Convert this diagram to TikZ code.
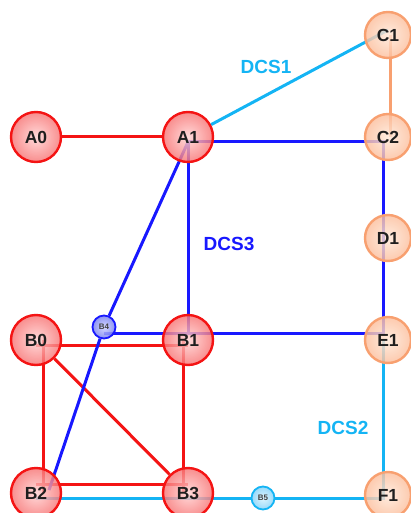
\documentclass[tikz,border=0pt]{standalone}
\usepackage{fontspec}
\setmainfont{Liberation Sans}
\usetikzlibrary{calc,backgrounds}
\definecolor{redL}{HTML}{F41414}
\definecolor{redIn}{HTML}{FFD2D2}
\definecolor{redOut}{HTML}{F77474}
\definecolor{orL}{HTML}{F8A070}
\definecolor{orIn}{HTML}{FFE8D8}
\definecolor{orOut}{HTML}{FCBE9C}
\definecolor{blueL}{HTML}{1818FF}
\definecolor{blueIn}{HTML}{CDD0FF}
\definecolor{blueOut}{HTML}{7880F0}
\definecolor{skyL}{HTML}{14B4F4}
\definecolor{skyIn}{HTML}{D8F3FF}
\definecolor{skyOut}{HTML}{84D2F8}
\begin{document}
\begin{tikzpicture}[x=1pt,y=-1pt,
  bignode/.style={circle,line width=2.4pt,inner sep=0pt,fill opacity=0.82,text opacity=1,
    font=\bfseries\fontsize{17.5}{17.5}\selectfont,text=black!88},
  rnode/.style={bignode,draw=redL,inner color=redIn,outer color=redOut,minimum size=50pt},
  onode/.style={bignode,draw=orL,inner color=orIn,outer color=orOut,minimum size=46pt},
  smallnode/.style={circle,line width=1.8pt,inner sep=0pt,minimum size=23pt,fill opacity=0.85,text opacity=1,
    font=\bfseries\fontsize{8}{8}\selectfont,text=black!75},
  bnode/.style={smallnode,draw=blueL,inner color=blueIn,outer color=blueOut},
  snode/.style={smallnode,draw=skyL,inner color=skyIn,outer color=skyOut},
  redE/.style={draw=redL,line width=3pt},
  blueE/.style={draw=blueL,line width=3pt,line join=miter},
  skyE/.style={draw=skyL,line width=3pt,line join=miter},
  orE/.style={draw=orL,line width=3pt},
  lab/.style={font=\bfseries\fontsize{19}{19}\selectfont}
]
\useasboundingbox (0,0) rectangle (411,513);
% nodes
\node[rnode] (A0) at (36,137) {A0};
\node[rnode] (A1) at (188,137) {A1};
\node[rnode] (B0) at (36,340) {B0};
\node[rnode] (B1) at (188,340) {B1};
\node[rnode] (B2) at (36,493) {B2};
\node[rnode] (B3) at (188,493) {B3};
\node[onode] (C1) at (388,35) {C1};
\node[onode] (C2) at (388,137) {C2};
\node[onode] (D1) at (388,238) {D1};
\node[onode] (E1) at (388,340) {E1};
\node[onode] (F1) at (388,495) {F1};
\node[bnode] (B4) at (104,327) {B4};
\node[snode] (B5) at (263,498) {B5};
% labels
\node[lab,text=skyL] (dcs1) at (266,67) {DCS1};
\node[lab,text=blueL] (dcs3) at (229,244) {DCS3};
\node[lab,text=skyL] (dcs2) at (343,428) {DCS2};
\begin{scope}[on background layer]
  % red
  \draw[redE] (A0) -- (A1);
  \draw[redE] ($(B0)+(0,5)$) -- ($(B1)+(0,5)$);
  \draw[redE] ($(B0)+(7,0)$) -- ($(B2)+(7,0)$);
  \draw[redE] ($(B1)+(-5,0)$) -- ($(B3)+(-5,0)$);
  \draw[redE] ($(B2)+(0,-9)$) -- ($(B3)+(0,-9)$);
  \draw[redE] (B0) -- (B3);
  % orange
  \draw[orE] ($(C1)+(2,0)$) -- ($(C2)+(2,0)$);
  % light blue
  \draw[skyE] (A1) -- ($(C1)+(0,-5)$);
  \draw[skyE] ($(E1)+(-5,0)$) -- ($(F1)+(-5,3)$) -- (B5) -- ($(B2)+(0,5)$);
  % blue
  \draw[blueE] ($(A1)+(0,5)$) -- ($(C2)+(-5,5)$) -- ($(E1)+(-5,-7)$) -- ($(B1)+(0,-7)$) -- ($(B4)+(0,6)$);
  \draw[blueE] ($(A1)+(0,5)$) -- ($(B1)+(0,-7)$);
  \draw[blueE] ($(A1)+(0,5)$) -- (B4) -- ($(B2)+(13,-3)$);
\end{scope}
\end{tikzpicture}
\end{document}
